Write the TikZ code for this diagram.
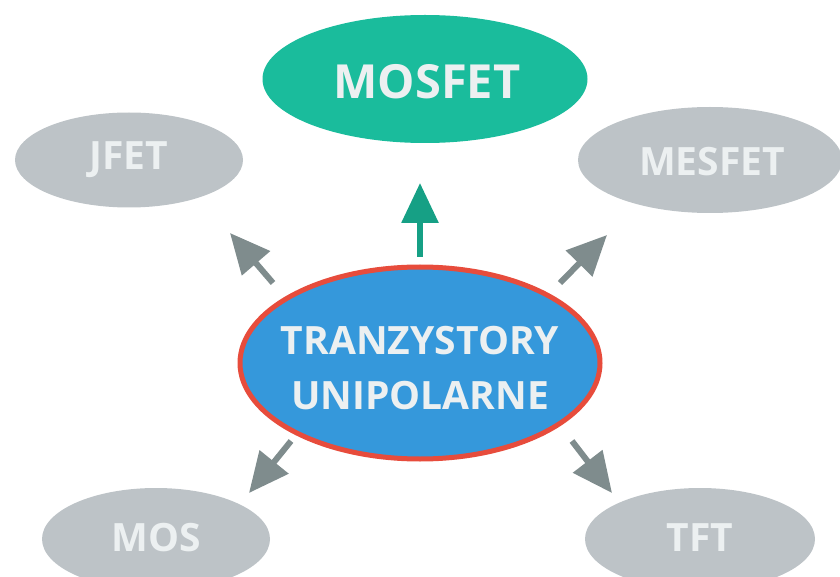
\documentclass[tikz,border=0pt]{standalone}
\usepackage{fontspec}
\setmainfont{Open Sans}
\usetikzlibrary{shapes.geometric,arrows.meta}
\definecolor{cblue}{HTML}{3598DB}
\definecolor{cred}{HTML}{E74C3C}
\definecolor{cgreen}{HTML}{1ABC9C}
\definecolor{cdgreen}{HTML}{16A085}
\definecolor{cgrey}{HTML}{BDC3C7}
\definecolor{carrow}{HTML}{7F8C8D}
\definecolor{ctext}{HTML}{ECF0F1}
\tikzset{
  ell/.style={ellipse, inner sep=0pt, draw=none},
  lbl/.style={text=ctext, font=\bfseries\fontsize{39}{55}\selectfont, align=center, inner sep=0pt},
  arr/.style={line width=6pt, -{Triangle[length=40pt,width=36pt]}},
}
\begin{document}
\begin{tikzpicture}[x=1pt,y=-1pt]
\useasboundingbox (0,0) rectangle (840,577);
% ellipses
\node[ell, fill=cgreen, minimum width=325pt, minimum height=128pt] (mosfet) at (425,79) {};
\node[ell, fill=cgrey, minimum width=228pt, minimum height=95pt] (jfet) at (129,160) {};
\node[ell, fill=cgrey, minimum width=264pt, minimum height=106pt] (mesfet) at (710,160) {};
\node[ell, fill=cgrey, minimum width=228pt, minimum height=102pt] (mos) at (156,539) {};
\node[ell, fill=cgrey, minimum width=230pt, minimum height=102pt] (tft) at (700,539) {};
\node[ell, fill=cblue, draw=cred, line width=5pt, minimum width=360pt, minimum height=192pt] (c) at (420,363) {};
% labels
\node[lbl, font=\bfseries\fontsize{47}{55}\selectfont] (tmosfet) at (427,82) {MOSFET};
\node[lbl] (tjfet) at (129,160) {JFET};
\node[lbl] (tmesfet) at (712,162) {MESFET};
\node[lbl] (tmos) at (156,538) {MOS};
\node[lbl] (ttft) at (700,538) {TFT};
\node[lbl] (tc) at (420,368) {TRANZYSTORY\\UNIPOLARNE};
% arrow ends
\coordinate (a1s) at (420,257); \coordinate (a1e) at (420,183);
\coordinate (a2s) at (273,283); \coordinate (a2e) at (230,233);
\coordinate (a3s) at (560,283); \coordinate (a3e) at (607,235);
\coordinate (a4s) at (291,441); \coordinate (a4e) at (249,493);
\coordinate (a5s) at (572,441); \coordinate (a5e) at (612,493);
\draw[arr, cdgreen] (a1s) -- (a1e);
\draw[arr, carrow] (a2s) -- (a2e);
\draw[arr, carrow] (a3s) -- (a3e);
\draw[arr, carrow] (a4s) -- (a4e);
\draw[arr, carrow] (a5s) -- (a5e);
\end{tikzpicture}
\end{document}
